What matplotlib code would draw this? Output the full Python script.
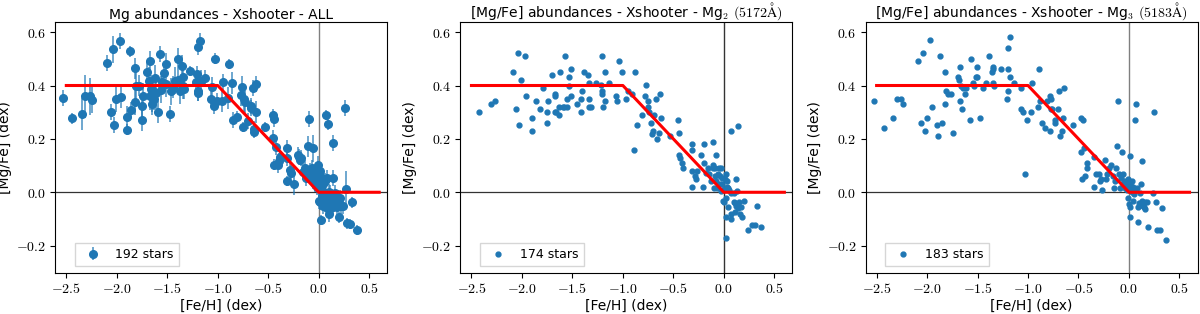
import matplotlib
matplotlib.use("Agg")
import matplotlib.pyplot as plt
import numpy as np
from matplotlib import ticker

plt.rcParams["mathtext.fontset"] = "cm"
plt.rcParams["font.family"] = ["DejaVu Sans"]

# Panel 1: all Mg lines, with uncertainties (10 values per row)
feh_all = [-2.53, -2.44, -2.34, -2.31, -2.27, -2.25, -2.10, -2.04, -2.03, -2.06,
           -2.01, -1.97, -1.96, -1.90, -1.90, -1.87, -1.86, -1.82, -1.82, -1.81,
           -1.78, -1.75, -1.75, -1.74, -1.70, -1.68, -1.67, -1.67, -1.65, -1.65,
           -1.64, -1.62, -1.61, -1.63, -1.66, -1.59, -1.57, -1.56, -1.55, -1.53,
           -1.51, -1.51, -1.47, -1.46, -1.44, -1.42, -1.39, -1.39, -1.37, -1.35,
           -1.34, -1.33, -1.34, -1.27, -1.22, -1.21, -1.20, -1.20, -1.20, -1.18,
           -1.17, -1.13, -1.06, -1.07, -1.04, -1.03, -1.01, -0.96, -0.95, -0.89,
           -0.90, -0.86, -0.85, -0.81, -0.77, -0.76, -0.75, -0.74, -0.73, -0.70,
           -0.67, -0.67, -0.65, -0.64, -0.64, -0.62, -0.62, -0.53, -0.45, -0.44,
           -0.45, -0.42, -0.44, -0.39, -0.38, -0.40, -0.31, -0.31, -0.31, -0.28,
           -0.27, -0.24, -0.20, -0.19, -0.18, -0.17, -0.16, -0.14, -0.13, -0.11,
           -0.10, -0.09, -0.08, -0.06, -0.06, -0.04, -0.03, -0.01, 0.01, -0.01,
           0.01, 0.02, 0.00, 0.01, 0.02, 0.03, 0.06, 0.07, 0.09, 0.08,
           0.09, 0.10, 0.11, 0.13, 0.14, 0.14, 0.14, 0.16, 0.17, 0.18,
           0.20, 0.21, 0.24, 0.26, 0.27, 0.28, 0.31, 0.33, 0.38, -0.05,
           -0.03, 0.00, 0.02, 0.04, -0.07, -0.02, 0.05, 0.07, 0.03, -0.04,
           0.00, -0.09, 0.10, 0.12, 0.15, 0.08, 0.06, 0.19, 0.04, 0.22]
mgfe_all = [0.354, 0.277, 0.293, 0.359, 0.359, 0.347, 0.485, 0.535, 0.252, 0.301,
            0.350, 0.568, 0.356, 0.235, 0.283, 0.528, 0.310, 0.464, 0.338, 0.399,
            0.399, 0.270, 0.323, 0.360, 0.452, 0.418, 0.490, 0.359, 0.331, 0.360,
            0.381, 0.427, 0.373, 0.348, 0.388, 0.301, 0.517, 0.385, 0.412, 0.447,
            0.480, 0.406, 0.293, 0.378, 0.394, 0.418, 0.501, 0.421, 0.381, 0.474,
            0.431, 0.388, 0.398, 0.454, 0.412, 0.443, 0.381, 0.373, 0.544, 0.565,
            0.418, 0.427, 0.393, 0.348, 0.323, 0.501, 0.341, 0.341, 0.412, 0.480,
            0.353, 0.410, 0.270, 0.283, 0.365, 0.396, 0.244, 0.351, 0.338, 0.267,
            0.316, 0.323, 0.390, 0.225, 0.238, 0.406, 0.301, 0.244, 0.291, 0.274,
            0.202, 0.169, 0.104, 0.116, 0.131, 0.104, 0.165, 0.128, 0.042, 0.085,
            0.073, 0.030, 0.141, 0.132, 0.121, 0.128, 0.075, 0.091, 0.054, 0.172,
            0.274, 0.079, 0.067, 0.042, 0.165, 0.067, 0.048, 0.104, 0.079, 0.032,
            0.060, 0.017, -0.032, -0.038, -0.104, -0.014, 0.042, 0.289, 0.254, 0.054,
            -0.044, -0.081, -0.001, -0.026, -0.057, 0.184, 0.054, -0.001, -0.032, -0.057,
            -0.094, -0.020, -0.051, 0.316, 0.011, -0.116, -0.119, -0.038, -0.141, 0.07,
            0.05, 0.06, 0.04, 0.03, 0.09, 0.02, 0.00, -0.02, 0.05, 0.03,
            0.08, 0.06, 0.00, -0.03, -0.04, -0.06, -0.03, -0.02, -0.05, -0.05]
err_all = [0.03, 0.02, 0.06, 0.08, 0.07, 0.05, 0.03, 0.05, 0.03, 0.03,
           0.05, 0.03, 0.04, 0.02, 0.04, 0.02, 0.03, 0.04, 0.05, 0.05,
           0.04, 0.04, 0.05, 0.05, 0.04, 0.05, 0.04, 0.05, 0.04, 0.06,
           0.05, 0.05, 0.06, 0.04, 0.05, 0.04, 0.03, 0.05, 0.04, 0.04,
           0.04, 0.05, 0.03, 0.05, 0.04, 0.05, 0.04, 0.04, 0.05, 0.04,
           0.05, 0.04, 0.05, 0.02, 0.04, 0.03, 0.04, 0.03, 0.03, 0.03,
           0.04, 0.03, 0.04, 0.03, 0.03, 0.02, 0.03, 0.04, 0.03, 0.02,
           0.04, 0.04, 0.03, 0.02, 0.04, 0.04, 0.02, 0.05, 0.04, 0.03,
           0.03, 0.03, 0.03, 0.02, 0.03, 0.03, 0.04, 0.02, 0.02, 0.03,
           0.03, 0.03, 0.02, 0.03, 0.02, 0.03, 0.03, 0.03, 0.02, 0.04,
           0.03, 0.04, 0.03, 0.03, 0.02, 0.03, 0.03, 0.03, 0.03, 0.04,
           0.03, 0.03, 0.03, 0.03, 0.05, 0.03, 0.03, 0.03, 0.03, 0.03,
           0.03, 0.03, 0.03, 0.03, 0.02, 0.03, 0.03, 0.02, 0.02, 0.03,
           0.03, 0.03, 0.03, 0.03, 0.03, 0.03, 0.03, 0.03, 0.03, 0.03,
           0.02, 0.03, 0.03, 0.03, 0.07, 0.02, 0.02, 0.02, 0.02, 0.03,
           0.03, 0.03, 0.03, 0.03, 0.03, 0.03, 0.03, 0.03, 0.03, 0.03,
           0.03, 0.03, 0.03, 0.03, 0.03, 0.03, 0.03, 0.03, 0.03, 0.03]

# Panel 2: Mg2 line (5172 A)
feh_mg2 = [-2.43, -2.31, -2.27, -2.09, -2.06, -2.04, -2.03, -2.01, -1.97, -1.96,
           -1.90, -1.90, -1.86, -1.82, -1.79, -1.75, -1.75, -1.74, -1.70, -1.67,
           -1.67, -1.67, -1.66, -1.63, -1.63, -1.62, -1.59, -1.58, -1.57, -1.55,
           -1.55, -1.53, -1.53, -1.51, -1.51, -1.45, -1.41, -1.41, -1.40, -1.39,
           -1.35, -1.34, -1.34, -1.34, -1.32, -1.27, -1.22, -1.21, -1.21, -1.21,
           -1.20, -1.18, -1.18, -1.14, -1.07, -1.06, -1.04, -1.01, -0.97, -0.95,
           -0.91, -0.89, -0.88, -0.86, -0.81, -0.78, -0.77, -0.75, -0.75, -0.74,
           -0.72, -0.71, -0.70, -0.69, -0.67, -0.66, -0.64, -0.63, -0.62, -0.53,
           -0.45, -0.44, -0.44, -0.43, -0.41, -0.40, -0.32, -0.32, -0.32, -0.32,
           -0.29, -0.28, -0.27, -0.23, -0.21, -0.20, -0.20, -0.18, -0.16, -0.15,
           -0.13, -0.11, -0.11, -0.11, -0.10, -0.09, -0.08, -0.08, -0.07, -0.05,
           -0.04, -0.03, -0.03, -0.02, 0.00, -0.01, 0.00, 0.02, 0.02, 0.02,
           0.02, 0.03, 0.04, 0.04, 0.07, 0.07, 0.07, 0.07, 0.10, 0.10,
           0.11, 0.12, 0.13, 0.13, 0.14, 0.14, 0.15, 0.16, 0.17, 0.18,
           0.20, 0.24, 0.28, 0.31, 0.33, 0.37, -0.06, -0.04, -0.02, 0.01,
           0.03, 0.05, 0.12, 0.14, 0.11, -0.09]
mgfe_mg2 = [0.301, 0.331, 0.341, 0.451, 0.311, 0.521, 0.251, 0.421, 0.511, 0.360,
            0.280, 0.231, 0.341, 0.311, 0.391, 0.300, 0.260, 0.341, 0.441, 0.370,
            0.360, 0.301, 0.301, 0.290, 0.320, 0.451, 0.321, 0.321, 0.511, 0.321,
            0.351, 0.400, 0.431, 0.462, 0.360, 0.331, 0.301, 0.351, 0.380, 0.451,
            0.441, 0.411, 0.351, 0.321, 0.321, 0.411, 0.401, 0.370, 0.380, 0.511,
            0.321, 0.341, 0.451, 0.411, 0.360, 0.341, 0.491, 0.451, 0.351, 0.380,
            0.370, 0.160, 0.451, 0.251, 0.290, 0.360, 0.401, 0.321, 0.341, 0.301,
            0.260, 0.220, 0.231, 0.290, 0.351, 0.201, 0.221, 0.370, 0.280, 0.211,
            0.270, 0.221, 0.141, 0.128, 0.110, 0.091, 0.180, 0.160, 0.020, 0.080,
            0.060, 0.051, 0.080, 0.141, 0.020, 0.111, 0.180, 0.072, 0.091, 0.067,
            0.042, 0.190, 0.091, 0.101, 0.017, 0.060, 0.141, 0.042, 0.017, 0.091,
            0.030, 0.005, 0.091, 0.054, 0.011, -0.032, -0.038, 0.067, -0.020, -0.091,
            -0.170, 0.042, 0.017, -0.057, -0.001, -0.100, -0.081, 0.230, -0.001, -0.038,
            -0.075, 0.051, 0.005, -0.044, -0.057, 0.249, -0.038, -0.081, -0.057, -0.094,
            -0.032, -0.141, -0.121, -0.121, -0.051, -0.131, 0.07, 0.06, 0.03, 0.05,
            0.02, 0.01, -0.05, -0.06, -0.04, 0.09]

# Panel 3: Mg3 line (5183 A)
feh_mg3 = [-2.53, -2.43, -2.34, -2.30, -2.26, -2.24, -2.09, -2.06, -2.04, -2.02,
           -2.00, -1.97, -1.95, -1.90, -1.89, -1.87, -1.85, -1.82, -1.82, -1.81,
           -1.79, -1.76, -1.74, -1.69, -1.68, -1.67, -1.67, -1.66, -1.65, -1.64,
           -1.62, -1.61, -1.57, -1.56, -1.55, -1.54, -1.52, -1.51, -1.51, -1.48,
           -1.45, -1.42, -1.39, -1.36, -1.35, -1.35, -1.35, -1.34, -1.27, -1.21,
           -1.20, -1.20, -1.20, -1.18, -1.18, -1.14, -1.07, -1.07, -1.05, -1.03,
           -1.01, -0.97, -0.96, -0.90, -0.89, -0.88, -0.86, -0.83, -0.81, -0.78,
           -0.78, -0.77, -0.77, -0.76, -0.73, -0.73, -0.70, -0.69, -0.68, -0.66,
           -0.64, -0.65, -0.55, -0.48, -0.46, -0.48, -0.45, -0.47, -0.44, -0.42,
           -0.42, -0.35, -0.35, -0.33, -0.30, -0.29, -0.28, -0.27, -0.24, -0.23,
           -0.22, -0.20, -0.18, -0.16, -0.15, -0.14, -0.13, -0.12, -0.11, -0.10,
           -0.09, -0.08, -0.07, -0.06, -0.05, -0.04, -0.03, -0.02, -0.01, 0.00,
           0.01, 0.01, 0.01, 0.02, 0.03, 0.04, 0.05, 0.06, 0.07, 0.08,
           0.09, 0.09, 0.11, 0.12, 0.13, 0.13, 0.15, 0.16, 0.16, 0.18,
           0.19, 0.24, 0.25, 0.27, 0.28, 0.31, 0.33, 0.37, -0.06, -0.03,
           0.00, 0.02, 0.04, -0.01, 0.03, 0.05, 0.10, 0.14]
mgfe_mg3 = [0.341, 0.241, 0.280, 0.351, 0.351, 0.331, 0.490, 0.260, 0.521, 0.231,
            0.280, 0.572, 0.321, 0.251, 0.211, 0.511, 0.260, 0.331, 0.451, 0.380,
            0.370, 0.370, 0.221, 0.431, 0.421, 0.470, 0.341, 0.400, 0.311, 0.390,
            0.370, 0.390, 0.270, 0.501, 0.411, 0.400, 0.431, 0.470, 0.431, 0.280,
            0.390, 0.411, 0.511, 0.451, 0.460, 0.470, 0.411, 0.400, 0.460, 0.351,
            0.541, 0.460, 0.380, 0.581, 0.431, 0.411, 0.390, 0.311, 0.301, 0.070,
            0.270, 0.301, 0.411, 0.321, 0.460, 0.341, 0.260, 0.241, 0.341, 0.360,
            0.231, 0.351, 0.311, 0.311, 0.270, 0.260, 0.311, 0.380, 0.211, 0.231,
            0.390, 0.280, 0.251, 0.280, 0.270, 0.151, 0.165, 0.051, 0.060, 0.111,
            0.091, 0.020, 0.131, 0.070, 0.070, 0.041, 0.051, 0.010, 0.121, 0.051,
            0.070, 0.091, 0.101, 0.060, 0.017, 0.041, 0.091, 0.172, 0.341, 0.070,
            0.017, 0.054, 0.151, 0.067, 0.042, 0.017, 0.036, 0.009, -0.020, -0.044,
            0.135, -0.057, -0.091, 0.023, 0.042, -0.032, -0.007, 0.270, 0.331, 0.017,
            -0.057, -0.110, -0.001, 0.030, -0.032, 0.119, -0.057, -0.038, -0.063, -0.038,
            -0.131, -0.004, 0.301, -0.038, -0.141, -0.141, -0.059, -0.180, 0.03, 0.02,
            0.03, 0.01, 0.02, 0.05, 0.00, 0.01, -0.04, -0.05]

# Reference trend: breakpoints
trend_feh = [-2.5, -1.0, 0.0, 0.6]
trend_mgfe = [0.4, 0.4, 0.0, 0.0]

titles = ["Mg abundances - Xshooter - ALL",
          "[Mg/Fe] abundances - Xshooter - Mg$_2$ $(5172\\mathrm{\\AA})$",
          "[Mg/Fe] abundances - Xshooter - Mg$_3$ $(5183\\mathrm{\\AA})$"]
labels = ["192 stars", "174 stars", "183 stars"]

fig, axes = plt.subplots(1, 3, figsize=(12, 3.14), dpi=100)
fig.subplots_adjust(left=0.046, right=0.998, bottom=0.131, top=0.93, wspace=0.22)

c0 = "#1f77b4"
for i, ax in enumerate(axes):
    ax.axhline(0, color="k", lw=0.9, alpha=0.8, zorder=1)
    ax.axvline(0, color="k", lw=1.0, alpha=0.5 if i != 1 else 0.8, zorder=1)
    if i == 0:
        ax.errorbar(feh_all, mgfe_all, yerr=err_all, fmt="o", ms=5.5, color=c0,
                    ecolor=(0.12, 0.47, 0.71, 0.7), elinewidth=1.3, label=labels[0], zorder=2)
    elif i == 1:
        ax.plot(feh_mg2, mgfe_mg2, ".", ms=7, color=c0, label=labels[1], zorder=2)
    else:
        ax.plot(feh_mg3, mgfe_mg3, ".", ms=7, color=c0, label=labels[2], zorder=2)
    ax.plot(trend_feh, trend_mgfe, color="red", lw=2.2, zorder=3)

    ax.set_xlim(-2.61, 0.68)
    ax.set_ylim(-0.302, 0.638)
    ax.set_xticks(np.arange(-2.5, 0.51, 0.5))
    ax.set_yticks(np.arange(-0.2, 0.61, 0.2))
    fmt = ticker.FuncFormatter(lambda v, p: "$%.1f$" % v)
    ax.xaxis.set_major_formatter(fmt)
    ax.yaxis.set_major_formatter(fmt)
    ax.tick_params(labelsize=10, pad=3)
    ax.set_xlabel("[Fe/H] (dex)", fontsize=10, labelpad=2)
    ax.set_ylabel("[Mg/Fe] (dex)", fontsize=10, labelpad=3)
    ax.set_title(titles[i], fontsize=10, pad=2)
    ax.legend(loc="lower left", fontsize=9, fancybox=False, borderpad=0.4,
              borderaxespad=0, bbox_to_anchor=(0.06, 0.027), handlelength=2.0,
              handletextpad=0.8)

fig.savefig("out.png", dpi=100)
